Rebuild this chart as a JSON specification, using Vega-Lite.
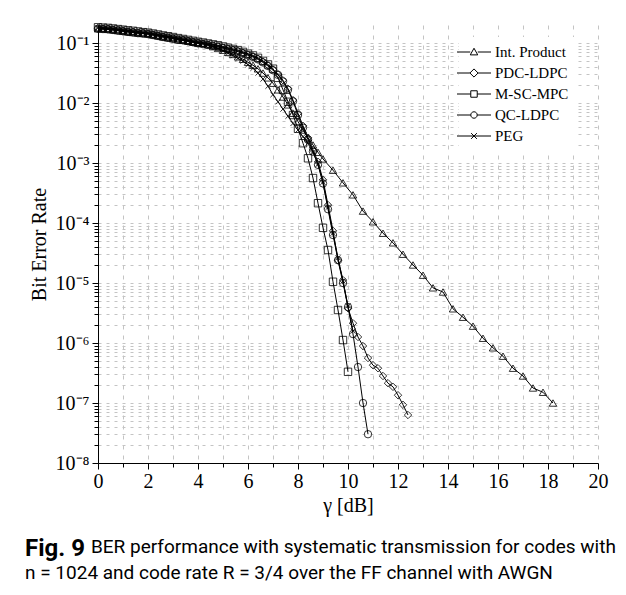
{
"$schema": "https://vega.github.io/schema/vega-lite/v6.json",
"width": 500,
"height": 438,
"autosize": "none",
"padding": {"left": 98, "top": 25, "right": 28, "bottom": 132},
"background": "white",
"config": {
  "view": {"stroke": null},
  "font": "Liberation Serif",
  "axis": {"labelFont": "Liberation Serif", "titleFont": "Liberation Serif", "labelColor": "black", "titleColor": "black", "labelFontSize": 20, "titleFontSize": 20, "titleFontWeight": "normal", "domainColor": "black", "tickColor": "black", "gridColor": "#c4c4c4", "gridWidth": 1, "labelOverlap": false, "labelFlush": false}
},
"title": {
  "text": "Fig. 9",
  "orient": "bottom",
  "anchor": "start",
  "frame": "group",
  "dx": -73,
  "offset": 22,
  "font": "Roboto",
  "fontSize": 24,
  "fontWeight": "bold",
  "color": "black",
  "subtitle": ["\u200b\u00a0\u00a0\u00a0\u00a0\u00a0\u00a0\u00a0\u00a0\u00a0\u00a0\u00a0\u00a0\u00a0\u00a0BER performance with systematic transmission for codes with", "n = 1024 and code rate R = 3/4 over the FF channel with AWGN"],
  "subtitleFont": "Roboto",
  "subtitleFontSize": 19,
  "subtitleColor": "black",
  "subtitleFontWeight": "normal",
  "subtitlePadding": -23,
  "subtitleLineHeight": 26
},
"data": {"values": [
{"code":"PDC-LDPC","snr":0,"ber":0.178},{"code":"PDC-LDPC","snr":0.2,"ber":0.176},{"code":"PDC-LDPC","snr":0.4,"ber":0.174},{"code":"PDC-LDPC","snr":0.6,"ber":0.170},{"code":"PDC-LDPC","snr":0.8,"ber":0.166},{"code":"PDC-LDPC","snr":1,"ber":0.162},{"code":"PDC-LDPC","snr":1.2,"ber":0.158},{"code":"PDC-LDPC","snr":1.4,"ber":0.155},{"code":"PDC-LDPC","snr":1.6,"ber":0.151},{"code":"PDC-LDPC","snr":1.8,"ber":0.148},{"code":"PDC-LDPC","snr":2,"ber":0.145},{"code":"PDC-LDPC","snr":2.2,"ber":0.140},{"code":"PDC-LDPC","snr":2.4,"ber":0.135},{"code":"PDC-LDPC","snr":2.6,"ber":0.130},{"code":"PDC-LDPC","snr":2.8,"ber":0.126},{"code":"PDC-LDPC","snr":3,"ber":0.122},{"code":"PDC-LDPC","snr":3.2,"ber":0.117},{"code":"PDC-LDPC","snr":3.4,"ber":0.114},{"code":"PDC-LDPC","snr":3.6,"ber":0.110},{"code":"PDC-LDPC","snr":3.8,"ber":0.106},{"code":"PDC-LDPC","snr":4,"ber":0.102},{"code":"PDC-LDPC","snr":4.2,"ber":0.0989},{"code":"PDC-LDPC","snr":4.4,"ber":0.0955},{"code":"PDC-LDPC","snr":4.6,"ber":0.0923},{"code":"PDC-LDPC","snr":4.8,"ber":0.0891},{"code":"PDC-LDPC","snr":5,"ber":0.0851},{"code":"PDC-LDPC","snr":5.2,"ber":0.0813},{"code":"PDC-LDPC","snr":5.4,"ber":0.0776},{"code":"PDC-LDPC","snr":5.6,"ber":0.0741},{"code":"PDC-LDPC","snr":5.8,"ber":0.0692},{"code":"PDC-LDPC","snr":6,"ber":0.0646},{"code":"PDC-LDPC","snr":6.2,"ber":0.0603},{"code":"PDC-LDPC","snr":6.4,"ber":0.0550},{"code":"PDC-LDPC","snr":6.6,"ber":0.0490},{"code":"PDC-LDPC","snr":6.8,"ber":0.0427},{"code":"PDC-LDPC","snr":7,"ber":0.0363},
{"code":"PDC-LDPC","snr":7.2,"ber":0.0302},{"code":"PDC-LDPC","snr":7.4,"ber":0.0240},{"code":"PDC-LDPC","snr":7.6,"ber":0.0174},{"code":"PDC-LDPC","snr":7.8,"ber":0.0112},{"code":"PDC-LDPC","snr":8,"ber":0.00676},{"code":"PDC-LDPC","snr":8.2,"ber":0.00417},{"code":"PDC-LDPC","snr":8.4,"ber":0.00263},{"code":"PDC-LDPC","snr":8.6,"ber":0.00166},{"code":"PDC-LDPC","snr":8.8,"ber":0.00105},{"code":"PDC-LDPC","snr":9,"ber":0.000525},{"code":"PDC-LDPC","snr":9.2,"ber":0.000200},{"code":"PDC-LDPC","snr":9.4,"ber":7.41e-5},{"code":"PDC-LDPC","snr":9.6,"ber":2.40e-5},{"code":"PDC-LDPC","snr":9.8,"ber":1.12e-5},{"code":"PDC-LDPC","snr":10,"ber":3.80e-6},{"code":"PDC-LDPC","snr":10.2,"ber":2.14e-6},{"code":"PDC-LDPC","snr":10.4,"ber":1.26e-6},{"code":"PDC-LDPC","snr":10.6,"ber":8.91e-7},{"code":"PDC-LDPC","snr":10.8,"ber":5.62e-7},{"code":"PDC-LDPC","snr":11,"ber":4.27e-7},{"code":"PDC-LDPC","snr":11.2,"ber":3.80e-7},{"code":"PDC-LDPC","snr":11.4,"ber":2.82e-7},{"code":"PDC-LDPC","snr":11.6,"ber":2.14e-7},{"code":"PDC-LDPC","snr":11.8,"ber":1.86e-7},{"code":"PDC-LDPC","snr":12,"ber":1.35e-7},{"code":"PDC-LDPC","snr":12.2,"ber":9.33e-8},{"code":"PDC-LDPC","snr":12.4,"ber":6.31e-8},
{"code":"QC-LDPC","snr":0,"ber":0.173},{"code":"QC-LDPC","snr":0.2,"ber":0.171},{"code":"QC-LDPC","snr":0.4,"ber":0.169},{"code":"QC-LDPC","snr":0.6,"ber":0.165},{"code":"QC-LDPC","snr":0.8,"ber":0.161},{"code":"QC-LDPC","snr":1,"ber":0.157},{"code":"QC-LDPC","snr":1.2,"ber":0.153},{"code":"QC-LDPC","snr":1.4,"ber":0.150},{"code":"QC-LDPC","snr":1.6,"ber":0.146},{"code":"QC-LDPC","snr":1.8,"ber":0.144},{"code":"QC-LDPC","snr":2,"ber":0.141},{"code":"QC-LDPC","snr":2.2,"ber":0.136},{"code":"QC-LDPC","snr":2.4,"ber":0.131},{"code":"QC-LDPC","snr":2.6,"ber":0.126},{"code":"QC-LDPC","snr":2.8,"ber":0.122},{"code":"QC-LDPC","snr":3,"ber":0.118},{"code":"QC-LDPC","snr":3.2,"ber":0.113},{"code":"QC-LDPC","snr":3.4,"ber":0.111},{"code":"QC-LDPC","snr":3.6,"ber":0.107},{"code":"QC-LDPC","snr":3.8,"ber":0.103},{"code":"QC-LDPC","snr":4,"ber":0.0989},{"code":"QC-LDPC","snr":4.2,"ber":0.0959},{"code":"QC-LDPC","snr":4.4,"ber":0.0926},{"code":"QC-LDPC","snr":4.6,"ber":0.0895},{"code":"QC-LDPC","snr":4.8,"ber":0.0864},{"code":"QC-LDPC","snr":5,"ber":0.0825},{"code":"QC-LDPC","snr":5.2,"ber":0.0789},{"code":"QC-LDPC","snr":5.4,"ber":0.0753},{"code":"QC-LDPC","snr":5.6,"ber":0.0719},{"code":"QC-LDPC","snr":5.8,"ber":0.0671},{"code":"QC-LDPC","snr":6,"ber":0.0627},{"code":"QC-LDPC","snr":6.2,"ber":0.0585},{"code":"QC-LDPC","snr":6.4,"ber":0.0534},{"code":"QC-LDPC","snr":6.6,"ber":0.0475},{"code":"QC-LDPC","snr":6.8,"ber":0.0414},{"code":"QC-LDPC","snr":7,"ber":0.0352},
{"code":"QC-LDPC","snr":7.2,"ber":0.0295},{"code":"QC-LDPC","snr":7.4,"ber":0.0229},{"code":"QC-LDPC","snr":7.6,"ber":0.0166},{"code":"QC-LDPC","snr":7.8,"ber":0.0107},{"code":"QC-LDPC","snr":8,"ber":0.00631},{"code":"QC-LDPC","snr":8.2,"ber":0.00389},{"code":"QC-LDPC","snr":8.4,"ber":0.00245},{"code":"QC-LDPC","snr":8.6,"ber":0.00155},{"code":"QC-LDPC","snr":8.8,"ber":0.000933},{"code":"QC-LDPC","snr":9,"ber":0.000457},{"code":"QC-LDPC","snr":9.2,"ber":0.000170},{"code":"QC-LDPC","snr":9.4,"ber":6.31e-5},{"code":"QC-LDPC","snr":9.6,"ber":2.40e-5},{"code":"QC-LDPC","snr":9.8,"ber":1.00e-5},{"code":"QC-LDPC","snr":10,"ber":3.98e-6},{"code":"QC-LDPC","snr":10.2,"ber":1.41e-6},{"code":"QC-LDPC","snr":10.4,"ber":3.98e-7},{"code":"QC-LDPC","snr":10.6,"ber":1.00e-7},{"code":"QC-LDPC","snr":10.8,"ber":3.02e-8},
{"code":"M-SC-MPC","snr":0,"ber":0.183},{"code":"M-SC-MPC","snr":0.2,"ber":0.181},{"code":"M-SC-MPC","snr":0.4,"ber":0.179},{"code":"M-SC-MPC","snr":0.6,"ber":0.175},{"code":"M-SC-MPC","snr":0.8,"ber":0.171},{"code":"M-SC-MPC","snr":1,"ber":0.167},{"code":"M-SC-MPC","snr":1.2,"ber":0.163},{"code":"M-SC-MPC","snr":1.4,"ber":0.160},{"code":"M-SC-MPC","snr":1.6,"ber":0.156},{"code":"M-SC-MPC","snr":1.8,"ber":0.152},{"code":"M-SC-MPC","snr":2,"ber":0.149},{"code":"M-SC-MPC","snr":2.2,"ber":0.144},{"code":"M-SC-MPC","snr":2.4,"ber":0.139},{"code":"M-SC-MPC","snr":2.6,"ber":0.134},{"code":"M-SC-MPC","snr":2.8,"ber":0.130},{"code":"M-SC-MPC","snr":3,"ber":0.126},{"code":"M-SC-MPC","snr":3.2,"ber":0.121},{"code":"M-SC-MPC","snr":3.4,"ber":0.117},{"code":"M-SC-MPC","snr":3.6,"ber":0.113},{"code":"M-SC-MPC","snr":3.8,"ber":0.109},{"code":"M-SC-MPC","snr":4,"ber":0.105},{"code":"M-SC-MPC","snr":4.2,"ber":0.102},{"code":"M-SC-MPC","snr":4.4,"ber":0.0984},{"code":"M-SC-MPC","snr":4.6,"ber":0.0951},{"code":"M-SC-MPC","snr":4.8,"ber":0.0918},{"code":"M-SC-MPC","snr":5,"ber":0.0877},{"code":"M-SC-MPC","snr":5.2,"ber":0.0837},{"code":"M-SC-MPC","snr":5.4,"ber":0.0799},{"code":"M-SC-MPC","snr":5.6,"ber":0.0763},{"code":"M-SC-MPC","snr":5.8,"ber":0.0713},{"code":"M-SC-MPC","snr":6,"ber":0.0665},{"code":"M-SC-MPC","snr":6.2,"ber":0.0621},{"code":"M-SC-MPC","snr":6.4,"ber":0.0567},{"code":"M-SC-MPC","snr":6.6,"ber":0.0505},{"code":"M-SC-MPC","snr":6.8,"ber":0.0440},{"code":"M-SC-MPC","snr":7,"ber":0.0374},
{"code":"M-SC-MPC","snr":7.2,"ber":0.0263},{"code":"M-SC-MPC","snr":7.4,"ber":0.0166},{"code":"M-SC-MPC","snr":7.6,"ber":0.0105},{"code":"M-SC-MPC","snr":7.8,"ber":0.00631},{"code":"M-SC-MPC","snr":8,"ber":0.00372},{"code":"M-SC-MPC","snr":8.2,"ber":0.00214},{"code":"M-SC-MPC","snr":8.4,"ber":0.00120},{"code":"M-SC-MPC","snr":8.6,"ber":0.000562},{"code":"M-SC-MPC","snr":8.8,"ber":0.000214},{"code":"M-SC-MPC","snr":9,"ber":8.32e-5},{"code":"M-SC-MPC","snr":9.2,"ber":3.55e-5},{"code":"M-SC-MPC","snr":9.4,"ber":1.05e-5},{"code":"M-SC-MPC","snr":9.6,"ber":3.55e-6},{"code":"M-SC-MPC","snr":9.8,"ber":1.12e-6},{"code":"M-SC-MPC","snr":10,"ber":3.31e-7},
{"code":"PEG","snr":0,"ber":0.178},{"code":"PEG","snr":0.2,"ber":0.176},{"code":"PEG","snr":0.4,"ber":0.174},{"code":"PEG","snr":0.6,"ber":0.170},{"code":"PEG","snr":0.8,"ber":0.166},{"code":"PEG","snr":1,"ber":0.162},{"code":"PEG","snr":1.2,"ber":0.158},{"code":"PEG","snr":1.4,"ber":0.155},{"code":"PEG","snr":1.6,"ber":0.151},{"code":"PEG","snr":1.8,"ber":0.148},{"code":"PEG","snr":2,"ber":0.145},{"code":"PEG","snr":2.2,"ber":0.140},{"code":"PEG","snr":2.4,"ber":0.135},{"code":"PEG","snr":2.6,"ber":0.130},{"code":"PEG","snr":2.8,"ber":0.126},{"code":"PEG","snr":3,"ber":0.122},{"code":"PEG","snr":3.2,"ber":0.117},{"code":"PEG","snr":3.4,"ber":0.114},{"code":"PEG","snr":3.6,"ber":0.110},{"code":"PEG","snr":3.8,"ber":0.106},{"code":"PEG","snr":4,"ber":0.102},{"code":"PEG","snr":4.2,"ber":0.0989},
{"code":"PEG","snr":4.4,"ber":0.0933},{"code":"PEG","snr":4.6,"ber":0.0871},{"code":"PEG","snr":4.8,"ber":0.0813},{"code":"PEG","snr":5,"ber":0.0741},{"code":"PEG","snr":5.2,"ber":0.0676},{"code":"PEG","snr":5.4,"ber":0.0617},{"code":"PEG","snr":5.6,"ber":0.0556},{"code":"PEG","snr":5.8,"ber":0.0501},{"code":"PEG","snr":6,"ber":0.0437},{"code":"PEG","snr":6.2,"ber":0.0380},{"code":"PEG","snr":6.4,"ber":0.0316},{"code":"PEG","snr":6.6,"ber":0.0251},{"code":"PEG","snr":6.8,"ber":0.0191},{"code":"PEG","snr":7,"ber":0.0138},{"code":"PEG","snr":7.2,"ber":0.0105},{"code":"PEG","snr":7.4,"ber":0.00794},{"code":"PEG","snr":7.6,"ber":0.00603},{"code":"PEG","snr":7.8,"ber":0.00457},{"code":"PEG","snr":8,"ber":0.00355},{"code":"PEG","snr":8.2,"ber":0.00275},{"code":"PEG","snr":8.4,"ber":0.00214},{"code":"PEG","snr":8.6,"ber":0.00151},{"code":"PEG","snr":8.8,"ber":0.000955},{"code":"PEG","snr":9,"ber":0.000479},{"code":"PEG","snr":9.2,"ber":0.000182},{"code":"PEG","snr":9.4,"ber":6.76e-5},{"code":"PEG","snr":9.6,"ber":2.63e-5},{"code":"PEG","snr":9.8,"ber":1.07e-5},{"code":"PEG","snr":10,"ber":4.17e-6},{"code":"PEG","snr":10.2,"ber":1.58e-6},
{"code":"Int. Product","snr":0,"ber":0.173},{"code":"Int. Product","snr":0.2,"ber":0.171},{"code":"Int. Product","snr":0.4,"ber":0.169},{"code":"Int. Product","snr":0.6,"ber":0.165},{"code":"Int. Product","snr":0.8,"ber":0.161},{"code":"Int. Product","snr":1,"ber":0.157},{"code":"Int. Product","snr":1.2,"ber":0.153},{"code":"Int. Product","snr":1.4,"ber":0.150},{"code":"Int. Product","snr":1.6,"ber":0.146},{"code":"Int. Product","snr":1.8,"ber":0.144},{"code":"Int. Product","snr":2,"ber":0.141},{"code":"Int. Product","snr":2.2,"ber":0.136},{"code":"Int. Product","snr":2.4,"ber":0.131},{"code":"Int. Product","snr":2.6,"ber":0.126},{"code":"Int. Product","snr":2.8,"ber":0.122},{"code":"Int. Product","snr":3,"ber":0.118},{"code":"Int. Product","snr":3.2,"ber":0.113},{"code":"Int. Product","snr":3.4,"ber":0.111},{"code":"Int. Product","snr":3.6,"ber":0.107},{"code":"Int. Product","snr":3.8,"ber":0.103},{"code":"Int. Product","snr":4,"ber":0.0989},
{"code":"Int. Product","snr":4.2,"ber":0.0977},{"code":"Int. Product","snr":4.4,"ber":0.0933},{"code":"Int. Product","snr":4.6,"ber":0.0871},{"code":"Int. Product","snr":4.8,"ber":0.0813},{"code":"Int. Product","snr":5,"ber":0.0759},{"code":"Int. Product","snr":5.2,"ber":0.0700},{"code":"Int. Product","snr":5.4,"ber":0.0646},{"code":"Int. Product","snr":5.6,"ber":0.0589},{"code":"Int. Product","snr":5.8,"ber":0.0537},{"code":"Int. Product","snr":6,"ber":0.0479},{"code":"Int. Product","snr":6.2,"ber":0.0427},{"code":"Int. Product","snr":6.4,"ber":0.0372},{"code":"Int. Product","snr":6.6,"ber":0.0316},{"code":"Int. Product","snr":6.8,"ber":0.0263},{"code":"Int. Product","snr":7,"ber":0.0214},{"code":"Int. Product","snr":7.2,"ber":0.0166},{"code":"Int. Product","snr":7.4,"ber":0.0126},{"code":"Int. Product","snr":7.6,"ber":0.00933},{"code":"Int. Product","snr":7.8,"ber":0.00676},{"code":"Int. Product","snr":8,"ber":0.00490},{"code":"Int. Product","snr":8.2,"ber":0.00355},{"code":"Int. Product","snr":8.4,"ber":0.00263},{"code":"Int. Product","snr":8.6,"ber":0.00200},{"code":"Int. Product","snr":8.8,"ber":0.00151},{"code":"Int. Product","snr":9,"ber":0.00117},{"code":"Int. Product","snr":9.4,"ber":0.000759},{"code":"Int. Product","snr":9.8,"ber":0.000468},{"code":"Int. Product","snr":10.2,"ber":0.000295},{"code":"Int. Product","snr":10.6,"ber":0.000158},{"code":"Int. Product","snr":11,"ber":0.000105},{"code":"Int. Product","snr":11.4,"ber":6.76e-5},{"code":"Int. Product","snr":11.8,"ber":4.68e-5},{"code":"Int. Product","snr":12.2,"ber":3.02e-5},{"code":"Int. Product","snr":12.6,"ber":2.00e-5},{"code":"Int. Product","snr":13,"ber":1.35e-5},{"code":"Int. Product","snr":13.4,"ber":8.32e-6},{"code":"Int. Product","snr":13.8,"ber":7.08e-6},{"code":"Int. Product","snr":14.2,"ber":3.72e-6},{"code":"Int. Product","snr":14.6,"ber":2.69e-6},{"code":"Int. Product","snr":15,"ber":1.91e-6},{"code":"Int. Product","snr":15.4,"ber":1.20e-6},{"code":"Int. Product","snr":15.8,"ber":8.32e-7},{"code":"Int. Product","snr":16.2,"ber":6.03e-7},{"code":"Int. Product","snr":16.6,"ber":3.80e-7},{"code":"Int. Product","snr":17,"ber":2.82e-7},{"code":"Int. Product","snr":17.4,"ber":1.78e-7},{"code":"Int. Product","snr":17.8,"ber":1.51e-7},{"code":"Int. Product","snr":18.2,"ber":1.00e-7}
]},
"encoding": {
  "x": {"field": "snr", "type": "quantitative", "scale": {"domain": [0, 20], "nice": false},
    "axis": {"values": [0,1,2,3,4,5,6,7,8,9,10,11,12,13,14,15,16,17,18,19,20], "labelExpr": "datum.value % 2 == 0 ? datum.label : ''", "title": "γ [dB]", "grid": true, "gridDash": [4, 6], "tickSize": {"condition": {"test": "datum.value % 2 == 0", "value": 6}, "value": 4}, "labelPadding": 2, "titlePadding": 4}},
  "y": {"field": "ber", "type": "quantitative", "scale": {"type": "log", "domain": [1e-8, 0.2], "nice": false},
    "axis": {"values": [1e-8,2e-8,3e-8,4e-8,5e-8,6e-8,7e-8,8e-8,9e-8,1e-7,2e-7,3e-7,4e-7,5e-7,6e-7,7e-7,8e-7,9e-7,1e-6,2e-6,3e-6,4e-6,5e-6,6e-6,7e-6,8e-6,9e-6,1e-5,2e-5,3e-5,4e-5,5e-5,6e-5,7e-5,8e-5,9e-5,1e-4,2e-4,3e-4,4e-4,5e-4,6e-4,7e-4,8e-4,9e-4,1e-3,2e-3,3e-3,4e-3,5e-3,6e-3,7e-3,8e-3,9e-3,1e-2,2e-2,3e-2,4e-2,5e-2,6e-2,7e-2,8e-2,9e-2,1e-1],
      "labelExpr": "abs(log(datum.value)/LN10 - round(log(datum.value)/LN10)) < 0.001 ? '10⁻' + ['⁰','¹','²','³','⁴','⁵','⁶','⁷','⁸','⁹'][-round(log(datum.value)/LN10)] : ''",
      "title": "Bit Error Rate", "grid": true, "gridDash": [3, 5],
      "tickSize": {"condition": {"test": "abs(log(datum.value)/LN10 - round(log(datum.value)/LN10)) < 0.001", "value": 6}, "value": 4},
      "labelPadding": 3, "titlePadding": 6}}
},
"layer": [
  {"mark": {"type": "line", "color": "black", "strokeWidth": 1}, "encoding": {"detail": {"field": "code"}}},
  {"mark": {"type": "point", "filled": false, "color": "black", "strokeWidth": 0.8, "size": 55, "opacity": 1},
   "encoding": {"shape": {"field": "code", "type": "nominal", "legend": null,
     "scale": {"domain": ["Int. Product", "PDC-LDPC", "M-SC-MPC", "QC-LDPC", "PEG"], "range": ["triangle-up", "diamond", "square", "circle", "M-0.7,-0.7L0.7,0.7M-0.7,0.7L0.7,-0.7"]}}}},
  {"transform": [{"filter": "false"}],
   "mark": {"type": "point", "filled": false, "color": "black", "strokeWidth": 1, "opacity": 1},
   "encoding": {"shape": {"field": "code", "type": "nominal",
     "scale": {"domain": ["Int. Product", "PDC-LDPC", "M-SC-MPC", "QC-LDPC", "PEG"], "range": [
       "M-2,0H-0.44M0.44,0H2M-0.44,0.34L0,-0.44L0.44,0.34Z",
       "M-2,0H-0.48M0.48,0H2M-0.48,0L0,-0.48L0.48,0L0,0.48Z",
       "M-2,0H-0.38M0.38,0H2M-0.38,-0.38H0.38V0.38H-0.38Z",
       "M-2,0H-0.38M0.38,0H2M-0.38,0A0.38,0.38 0 1,0 0.38,0A0.38,0.38 0 1,0 -0.38,0Z",
       "M-2,0H2M-0.34,-0.34L0.34,0.34M-0.34,0.34L0.34,-0.34"]},
     "legend": {"title": null, "orient": "none", "legendX": 361, "legendY": 12, "fillColor": "white", "padding": 6, "labelFont": "Liberation Serif", "labelFontSize": 15, "labelColor": "black", "symbolSize": 289, "symbolStrokeWidth": 1, "symbolStrokeColor": "black", "symbolFillColor": "transparent", "rowPadding": 4, "labelOffset": 12}}}}
],
"resolve": {"scale": {"shape": "independent"}}
}
